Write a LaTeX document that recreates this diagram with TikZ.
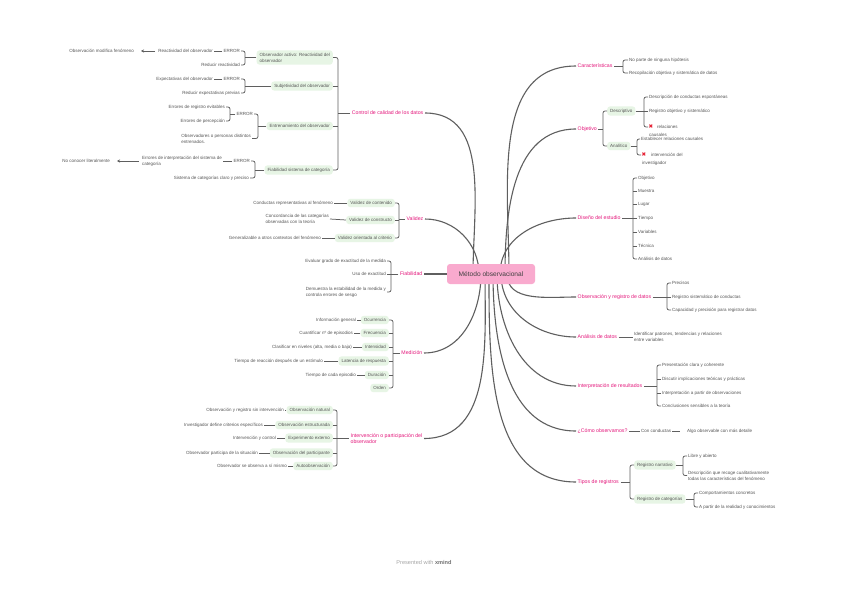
\documentclass[tikz,border=0pt]{standalone}
\usepackage{fontspec}
\setmainfont{Liberation Sans}
\newfontfamily\dv{DejaVu Sans}
\usetikzlibrary{arrows.meta}
\definecolor{txt}{RGB}{85,85,85}
\definecolor{pinkt}{RGB}{228,24,124}
\definecolor{gfill}{RGB}{231,245,229}
\definecolor{lin}{RGB}{95,95,95}
\definecolor{rootf}{RGB}{249,170,206}
\definecolor{xred}{RGB}{230,30,50}
\newcommand{\grpL}[4]{%
 \coordinate (tmpb) at (#2,0);
 \draw[br] (#1.west) -- (#1.west -| tmpb);
 \draw[br,rounded corners=2pt] (#3.east) -| (tmpb |- #1.west) |- (#4.east);
}
\newcommand{\stubL}[1]{\draw[br] (#1.east) -- (#1.east -| tmpb);}
\newcommand{\grpR}[4]{%
 \coordinate (tmpb) at (#2,0);
 \draw[br] (#1.east) -- (#1.east -| tmpb);
 \draw[br,rounded corners=2pt] (#3.west) -| (tmpb |- #1.east) |- (#4.west);
}
\newcommand{\stubR}[1]{\draw[br] (#1.west) -- (#1.west -| tmpb);}
\tikzset{
 lf/.style={font=\fontsize{4.5}{6}\selectfont, text=txt, inner sep=1pt, align=left},
 gb/.style={lf, fill=gfill, rounded corners=3pt, inner xsep=3pt, inner ysep=2.5pt},
 mt/.style={font=\fontsize{5.2}{6.6}\selectfont, text=pinkt, inner sep=1.5pt, align=left},
 br/.style={draw=lin, line width=0.75pt},
 ml/.style={draw=lin, line width=1.1pt},
 xic/.style={font=\dv\fontsize{5.5}{6}\selectfont, text=xred, inner sep=0.5pt},
}
\begin{document}
\begin{tikzpicture}[x=1pt,y=-1pt]
\useasboundingbox[fill=white] (0,0) rectangle (848,599);

% ---------- main topics ----------
\node[mt,anchor=east] (L1) at (425,113) {Control de calidad de los datos};
\node[mt,anchor=east] (L2) at (425,219) {Validez};
\node[mt,anchor=east] (L3) at (424,274) {Fiabilidad};
\node[mt,anchor=east] (L4) at (424,353) {Medición};
\node[mt,anchor=east] (L5) at (424,438.5) {Intervención o participación del\\observador};

\node[mt,anchor=west] (R1) at (576,66) {Características};
\node[mt,anchor=west] (R2) at (576,129) {Objetivo};
\node[mt,anchor=west] (R3) at (576,218) {Diseño del estudio};
\node[mt,anchor=west] (R4) at (576,297) {Observación y registro de datos};
\node[mt,anchor=west] (R5) at (576,337) {Análisis de datos};
\node[mt,anchor=west] (R6) at (576,386) {Interpretación de resultados};
\node[mt,anchor=west] (R7) at (576,431) {¿Cómo observamos?};
\node[mt,anchor=west] (R8) at (576,482) {Tipos de registros};

% ---------- root curves ----------
\coordinate (root0) at (491,274);
\draw[ml] ([xshift=18pt]root0) to[out=90,in=180] (R1.west);
\draw[ml] ([xshift=14pt]root0) to[out=90,in=180] (R2.west);
\draw[ml] ([xshift=9pt]root0) to[out=90,in=180] (R3.west);
\draw[ml] ([xshift=16pt]root0) to[out=-90,in=180] (R4.west);
\draw[ml] ([xshift=10pt]root0) to[out=-90,in=180] (R5.west);
\draw[ml] ([xshift=6pt]root0) to[out=-90,in=180] (R6.west);
\draw[ml] ([xshift=2pt]root0) to[out=-90,in=180] (R7.west);
\draw[ml] ([xshift=-2pt]root0) to[out=-90,in=180] (R8.west);
\draw[ml] ([xshift=-18pt]root0) to[out=90,in=0] (L1.east);
\draw[ml] ([xshift=-12pt]root0) to[out=90,in=0] (L2.east);
\draw[ml] ([xshift=-10pt]root0) to[out=-90,in=0] (L4.east);
\draw[ml] ([xshift=-6pt]root0) to[out=-90,in=0] (L5.east);
\draw[ml] (root0) -- (L3.east);

\node[fill=rootf, rounded corners=3pt, minimum width=88pt, minimum height=20pt,
      font=\fontsize{6.6}{7}\selectfont, text=black!75] (root) at (root0) {Método observacional};

% ---------- Control de calidad ----------
\node[gb,anchor=east] (B1) at (333,57.5) {Observador activo: Reactividad del\\observador};
\node[gb,anchor=east] (B2) at (333,86) {Subjetividad del observador};
\node[gb,anchor=east] (B3) at (333,126) {Entrenamiento del observador};
\node[gb,anchor=east] (B4) at (333,170) {Fiabilidad sistema de categoría};
\grpL{L1}{338}{B1}{B4}
\stubL{B2}\stubL{B3}

\node[lf,anchor=east] (E1) at (241,51) {ERROR};
\node[lf,anchor=east] (B1b) at (241,65) {Reducir reactividad};
\grpL{B1}{245}{E1}{B1b}
\node[lf,anchor=east] (E1a) at (214,51) {Reactividad del observador};
\draw[br] (E1.west) -- (E1a.east);
\node[lf,anchor=east] (E1b) at (135,51) {Observación modifica fenómeno};
\draw[br,-{Stealth[length=3pt,width=3pt]}] ([xshift=-2pt]E1a.west) -- ([xshift=6pt]E1b.east);

\node[lf,anchor=east] (E2) at (241,79) {ERROR};
\node[lf,anchor=east] (B2b) at (241,93) {Reducir expectativas previas};
\grpL{B2}{245}{E2}{B2b}
\node[lf,anchor=east] (E2a) at (214,79) {Expectativas del observador};
\draw[br] (E2.west) -- (E2a.east);

\node[lf,anchor=east] (E3) at (254,114) {ERROR};
\node[lf,anchor=east] (B3b) at (252,138.5) {Observadores o personas distintos\\entrenados.};
\grpL{B3}{258}{E3}{B3b}
\node[lf,anchor=east] (E3a) at (226,107) {Errores de registro evitables};
\node[lf,anchor=east] (E3b) at (226,121) {Errores de percepción};
\grpL{E3}{230}{E3a}{E3b}

\node[lf,anchor=east] (E4) at (251,161) {ERROR};
\node[lf,anchor=east] (B4b) at (250,178) {Sistema de categorías claro y preciso};
\grpL{B4}{255}{E4}{B4b}
\node[lf,anchor=east] (E4a) at (223,161) {Errores de interpretación del sistema de\\categoría};
\draw[br] (E4.west) -- (E4a.east);
\node[lf,anchor=east] (E4b) at (111,161) {No conocer literalmente};
\draw[br,-{Stealth[length=3pt,width=3pt]}] ([xshift=-2pt]E4a.west) -- ([xshift=6pt]E4b.east);

% ---------- Validez ----------
\node[gb,anchor=east] (V1) at (395,203) {Validez de contenido};
\node[gb,anchor=east] (V2) at (395,220) {Validez de constructo};
\node[gb,anchor=east] (V3) at (395,238) {Validez orientada al criterio};
\grpL{L2}{399}{V1}{V3}
\stubL{V2}
\node[lf,anchor=east] (V1a) at (334,203) {Conductas representativas al fenómeno};
\node[lf,anchor=east] (V2a) at (330,219) {Concordancia de las categorías\\observadas con la teoría};
\node[lf,anchor=east] (V3a) at (322,238) {Generalizable a otros contextos del fenómeno};
\draw[br] (V1.west) -- (V1a.east);
\draw[br] (V2.west) -- (V2a.east);
\draw[br] (V3.west) -- (V3a.east);

% ---------- Fiabilidad ----------
\node[lf,anchor=east] (F1) at (387,261) {Evaluar grado de exactitud de la medida};
\node[lf,anchor=east] (F2) at (387,274) {Uso de exactitud};
\node[lf,anchor=east] (F3) at (387,292) {Demuestra la estabilidad de la medida y\\controla errores de sesgo};
\grpL{L3}{391}{F1}{F3}
\stubL{F2}

% ---------- Medición ----------
\node[gb,anchor=east] (M1) at (389,320) {Ocurrencia};
\node[gb,anchor=east] (M2) at (389,333) {Frecuencia};
\node[gb,anchor=east] (M3) at (389,347) {Intensidad};
\node[gb,anchor=east] (M4) at (389,361) {Latencia de respuesta};
\node[gb,anchor=east] (M5) at (389,375) {Duración};
\node[gb,anchor=east] (M6) at (389,388) {Orden};
\grpL{L4}{393}{M1}{M6}
\stubL{M2}\stubL{M3}\stubL{M4}\stubL{M5}
\node[lf,anchor=east] (M1a) at (357,320) {Información general};
\node[lf,anchor=east] (M2a) at (354,333) {Cuantificar nº de episodios};
\node[lf,anchor=east] (M3a) at (353,347) {Clasificar en niveles (alta, media o baja)};
\node[lf,anchor=east] (M4a) at (324,361) {Tiempo de reacción después de un estímulo};
\node[lf,anchor=east] (M5a) at (357,375) {Tiempo de cada episodio};
\draw[br] (M1.west) -- (M1a.east);
\draw[br] (M2.west) -- (M2a.east);
\draw[br] (M3.west) -- (M3a.east);
\draw[br] (M4.west) -- (M4a.east);
\draw[br] (M5.west) -- (M5a.east);

% ---------- Intervención ----------
\node[gb,anchor=east] (I1) at (333,410) {Observación natural};
\node[gb,anchor=east] (I2) at (333,425) {Observación estructurada};
\node[gb,anchor=east] (I3) at (333,438) {Experimento externo};
\node[gb,anchor=east] (I4) at (333,453) {Observación del participante};
\node[gb,anchor=east] (I5) at (333,466) {Autoobservación};
\grpL{L5}{337}{I1}{I5}
\stubL{I2}\stubL{I3}\stubL{I4}
\node[lf,anchor=east] (I1a) at (285,410) {Observación y registro sin intervención};
\node[lf,anchor=east] (I2a) at (264,425) {Investigador define criterios específicos};
\node[lf,anchor=east] (I3a) at (277,438) {Intervención y control};
\node[lf,anchor=east] (I4a) at (259,453) {Observador participa de la situación};
\node[lf,anchor=east] (I5a) at (288,466) {Observador se observa a sí mismo};
\draw[br] (I1.west) -- (I1a.east);
\draw[br] (I2.west) -- (I2a.east);
\draw[br] (I3.west) -- (I3a.east);
\draw[br] (I4.west) -- (I4a.east);
\draw[br] (I5.west) -- (I5a.east);

% ---------- Características ----------
\node[lf,anchor=west] (C1) at (628,60) {No parte de ninguna hipótesis};
\node[lf,anchor=west] (C2) at (628,73) {Recopilación objetiva y sistemática de datos};
\grpR{R1}{623}{C1}{C2}

% ---------- Objetivo ----------
\node[gb,anchor=west] (O1) at (607,111) {Descriptivo};
\node[gb,anchor=west] (O2) at (607,146) {Analítico};
\grpR{R2}{603}{O1}{O2}
\node[lf,anchor=west] (O1a) at (648,97) {Descripción de conductas espontáneas};
\node[lf,anchor=west] (O1b) at (648,111) {Registro objetivo y sistemático};
\node[xic,anchor=west] (X1) at (648,127) {✖};
\node[lf,anchor=west] (X1t) at (656,127) {relaciones};
\node[lf,anchor=west] (X1u) at (648,134.5) {causales};
\grpR{O1}{644}{O1a}{X1}
\stubR{O1b}
\node[lf,anchor=west] (O2a) at (640,139) {Establecer relaciones causales};
\node[xic,anchor=west] (X2) at (641,155) {✖};
\node[lf,anchor=west] (X2t) at (650,155) {intervención del};
\node[lf,anchor=west] (X2u) at (641,163) {investigador};
\grpR{O2}{637}{O2a}{X2}

% ---------- Diseño ----------
\node[lf,anchor=west] (D1) at (637,178) {Objetivo};
\node[lf,anchor=west] (D2) at (637,191) {Muestra};
\node[lf,anchor=west] (D3) at (637,204) {Lugar};
\node[lf,anchor=west] (D4) at (637,218) {Tiempo};
\node[lf,anchor=west] (D5) at (637,232) {Variables};
\node[lf,anchor=west] (D6) at (637,246) {Técnica};
\node[lf,anchor=west] (D7) at (637,259) {Análisis de datos};
\grpR{R3}{633}{D1}{D7}
\stubR{D2}\stubR{D3}\stubR{D4}\stubR{D5}\stubR{D6}

% ---------- Observación y registro ----------
\node[lf,anchor=west] (P1) at (671,283) {Precisos};
\node[lf,anchor=west] (P2) at (671,297) {Registro sistemático de conductas};
\node[lf,anchor=west] (P3) at (671,310) {Capacidad y precisión para registrar datos};
\grpR{R4}{667}{P1}{P3}
\stubR{P2}

% ---------- Análisis ----------
\node[lf,anchor=west] (A1) at (633,337) {Identificar patrones, tendencias y relaciones\\entre variables};
\draw[br] (R5.east) -- (A1.west);

% ---------- Interpretación ----------
\node[lf,anchor=west] (T1) at (661,365) {Presentación clara y coherente};
\node[lf,anchor=west] (T2) at (661,379) {Discutir implicaciones teóricas y prácticas};
\node[lf,anchor=west] (T3) at (661,393) {Interpretación a partir de observaciones};
\node[lf,anchor=west] (T4) at (661,406) {Conclusiones sensibles a la teoría};
\grpR{R6}{657}{T1}{T4}
\stubR{T2}\stubR{T3}

% ---------- Cómo observamos ----------
\node[lf,anchor=west] (K1) at (640,431) {Con conductas};
\node[lf,anchor=west] (K2) at (686,431) {Algo observable con más detalle};
\draw[br] (R7.east) -- (K1.west);
\draw[br] (K1.east) -- ([xshift=-6pt]K2.west);

% ---------- Tipos de registros ----------
\node[gb,anchor=west] (G1) at (634,465) {Registro narrativo};
\node[gb,anchor=west] (G2) at (634,499) {Registro de categorías};
\grpR{R8}{630}{G1}{G2}
\node[lf,anchor=west] (G1a) at (687,456) {Libre y abierto};
\node[lf,anchor=west] (G1b) at (687,475.5) {Descripción que recoge cualitativamente\\todas las características del fenómeno};
\grpR{G1}{683}{G1a}{G1b}
\node[lf,anchor=west] (G2a) at (698,493) {Comportamientos concretos};
\node[lf,anchor=west] (G2b) at (698,507) {A partir de la realidad y conocimientos};
\grpR{G2}{694}{G2a}{G2b}

% ---------- footer ----------
\node[font=\fontsize{5.6}{6}\selectfont, text=black!35] (ft) at (424,562) {Presented with \textcolor{black!55}{\textbf{xmind}}};
\end{tikzpicture}
\end{document}
